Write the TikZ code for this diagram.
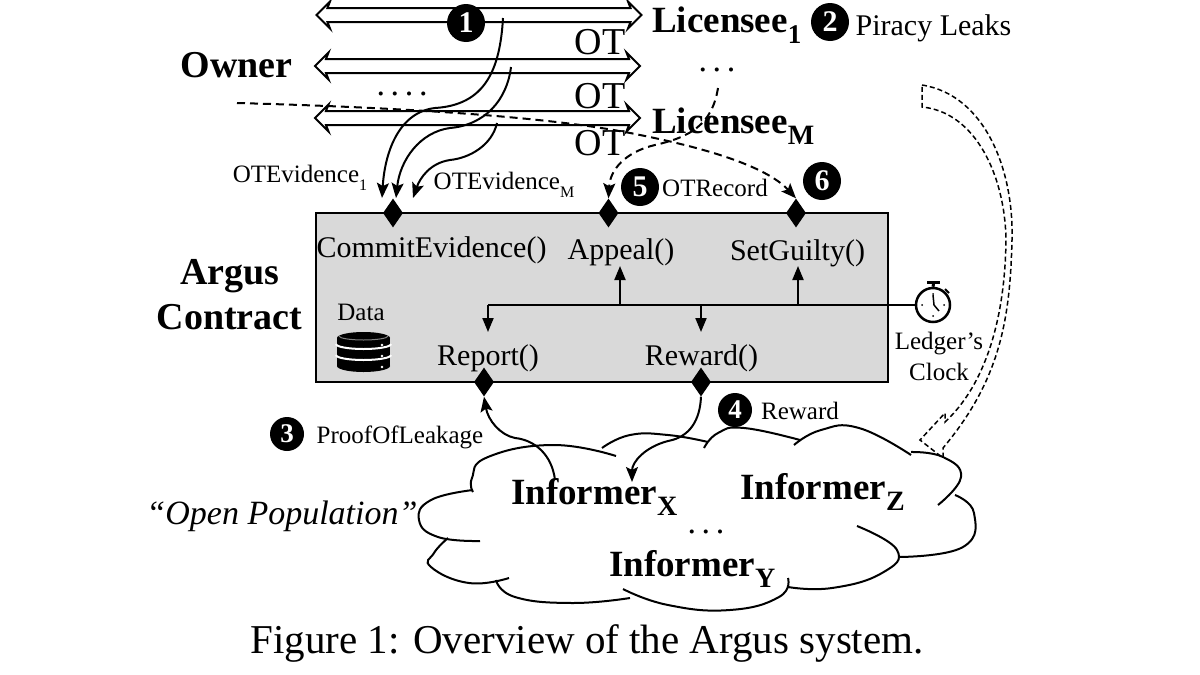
\documentclass[tikz,border=0pt]{standalone}
\usepackage{fontspec}
\setmainfont{Liberation Serif}
\usetikzlibrary{arrows.meta,shapes.geometric,shapes.arrows}
\newcommand{\lowtext}[2]{\raisebox{-.3em}{\fontsize{#1}{#1}\selectfont #2}}
\newcommand{\fs}[1]{\fontsize{#1}{#1}\selectfont}
\tikzset{
  wire/.style={line width=2pt, -{Stealth[length=15pt,width=12pt,inset=3pt]}},
  dashwire/.style={wire, dash pattern=on 8pt off 5pt},
  channel/.style={double arrow, draw, line width=2pt, inner xsep=0pt, inner ysep=6pt, minimum height=325pt, double arrow head extend=6.5pt, double arrow head indent=2.5pt},
  badge/.style={circle, fill=black, text=white, inner sep=0pt, minimum size=38pt, font=\fs{30}\bfseries},
  smallbadge/.style={badge, minimum size=34pt, font=\fs{27}\bfseries},
  port/.style={diamond, fill=black, inner sep=0pt, minimum width=20pt, minimum height=29pt},
  party/.style={inner sep=0pt, font=\fs{37}\bfseries},
  func/.style={inner sep=1pt, font=\fs{30}},
  note/.style={inner sep=0pt, font=\fs{25}},
  dotrow/.style={inner sep=0pt, text height=4pt, text depth=0pt, font=\fs{34}},
  lobe/.style={line width=2pt, smooth, tension=.8}
}

\begin{document}
\begin{tikzpicture}[x=1pt,y=-1pt]
  \useasboundingbox (0,0) rectangle (1200,675);

  \node[draw, line width=2pt, fill={rgb,255:red,217;green,217;blue,217}, minimum width=572pt, minimum height=169pt, inner sep=0pt] (contract) at (602,297.5) {};

  % parties
  \node[party, font=\fs{38}\bfseries] (owner) at (236.5,65) {Owner};
  \node[party, anchor=west] (lic1) at (652,25) {Licensee\lowtext{27}{1}};
  \node[party, anchor=west] (licM) at (652,126) {Licensee\lowtext{28}{M}};
  \node[party, font=\fs{38}\bfseries] (argus) at (230,276) {Argus};
  \node[party, font=\fs{38}\bfseries] (contr) at (229.5,317) {Contract};
  \node[dotrow] (dotsA) at (402,93) {.\,.\,.\,.};
  \node[dotrow] (dotsB) at (717,69) {.\,.\,.};

  % channels
  \node[channel] (chan1) at (479,15) {};
  \node[channel] (chan2) at (477.5,66) {};
  \node[channel] (chan3) at (477.5,118) {};
  \node[inner sep=0pt, font=\fs{38}] (ot1) at (600,42) {OT};
  \node[inner sep=0pt, font=\fs{38}] (ot2) at (600,96) {OT};
  \node[inner sep=0pt, font=\fs{38}] (ot3) at (600,143) {OT};

  % ports
  \node[port] (pCommit) at (393,213) {};
  \node[port] (pAppeal) at (608.5,213) {};
  \node[port] (pGuilty) at (796,213) {};
  \node[port] (pReport) at (484,382) {};
  \node[port] (pReward) at (701,382) {};

  % functions
  \node[func] (fCommit) at (431.5,250) {CommitEvidence()};
  \node[func] (fAppeal) at (621,252) {Appeal()};
  \node[func] (fGuilty) at (797.5,253) {SetGuilty()};
  \node[func] (fReport) at (488,358) {Report()};
  \node[func] (fReward) at (701.5,358) {Reward()};

  % labels
  \node[note] (evi1) at (300,178) {OTEvidence\lowtext{16}{1}};
  \node[note] (eviM) at (504,185) {OTEvidence\lowtext{16}{M}};
  \node[note] (otrec) at (715,188) {OTRecord};
  \node[note] (proof) at (400,437) {ProofOfLeakage};
  \node[note] (rew) at (800,411) {Reward};
  \node[inner sep=0pt, font=\fs{30}] (piracy) at (933.5,28) {Piracy Leaks};
  \node[note] (data) at (361,312) {Data};
  \node[note, align=center] (ledger) at (939,356) {Ledger's\\[6pt]Clock};
  \node[inner sep=0pt, font=\fs{34}\itshape] (openpop) at (282,516) {``Open Population''};
  \node[inner sep=0pt, font=\fs{41}] (caption) at (587,643) {Figure 1: Overview of the Argus system.};

  % badges
  \node[badge] (one) at (466,23) {1};
  \node[badge] (two) at (830,22) {2};
  \node[smallbadge] (three) at (287,434) {3};
  \node[smallbadge] (four) at (735,410) {4};
  \node[badge] (five) at (640,187) {5};
  \node[badge] (six) at (822,181) {6};

  % evidence
  \coordinate (s1) at (503,18);
  \coordinate (s2) at (511,67);
  \coordinate (s3) at (497,123);
  \coordinate (e1) at (382,198);
  \coordinate (e2) at (396,198);
  \coordinate (e3) at (413,198);
  \draw[wire] (s1) .. controls (500,70) and (485,105) .. (435,108) .. controls (400,112) and (385,150) .. (e1);
  \draw[wire] (s2) .. controls (507,100) and (485,125) .. (450,128) .. controls (420,132) and (400,160) .. (e2);
  \draw[wire] (s3) .. controls (492,145) and (470,158) .. (450,160) .. controls (430,163) and (420,178) .. (e3);

  % leaks
  \coordinate (s4) at (237,103);
  \coordinate (s5) at (718,88);
  \draw[dashwire] (s4) .. controls (420,108) and (560,118) .. (640,135) .. controls (700,147) and (765,165) .. (pGuilty.north);
  \draw[dashwire] (s5) .. controls (712,125) and (690,137) .. (655,145) .. controls (625,152) and (610,170) .. (pAppeal.north);

  % clock
  \node[draw, circle, line width=2.5pt, fill=white, minimum size=34pt, inner sep=0pt] (clock) at (933,305) {};
  \fill (927,281) rectangle (940,284);
  \draw[line width=3pt] (933.5,284) -- (clock.north);
  \draw[line width=2pt] (945,289) -- (949,293);
  \draw[line width=1.5pt] (933,295) -- (934,305) -- (939,311);
  \foreach \a in {0,90,180,270}
    \fill (clock.center) ++(\a:11pt) circle (1pt);
  \coordinate (turn) at (488,305);
  \coordinate (busA) at (620,305);
  \coordinate (busB) at (701,305);
  \coordinate (busC) at (798,305);
  \coordinate (endR) at (488,332);
  \coordinate (endW) at (701,332);
  \coordinate (endA) at (620,266);
  \coordinate (endC) at (798,266);
  \draw[line width=2pt] (clock.west) -- (turn);
  \path[wire, -{Stealth[length=14pt,width=11pt,inset=0pt]}]
  (turn) edge (endR)
  (busB) edge (endW)
  (busA) edge (endA)
  (busC) edge (endC)
  ;

  % database
  \fill (337,338) rectangle (390,366);
  \fill (363.5,338) ellipse (26.5pt and 6pt);
  \fill (363.5,366) ellipse (26.5pt and 6pt);
  \draw[white, line width=1pt, opacity=.5] (339,336) arc (180:360:24.5pt and 4pt);
  \foreach \y in {344,355}
    \draw[white, line width=2pt] (336,\y) arc (180:360:27.5pt and 5pt);
  \foreach \y in {345,356,367}
    \fill[white] (382,\y) circle (1.4pt);

  % cloud
  \draw[lobe] plot coordinates {(473,492) (472,478) (488,457) (553,445) (616,456)};
  \draw[lobe] plot coordinates {(602,448) (630,435) (668,435) (708,442)};
  \draw[lobe] plot coordinates {(704,448) (718,433) (744,428) (800,440)};
  \draw[lobe] plot coordinates {(794,445) (821,430) (859,428) (911,455)};
  \draw[lobe] plot coordinates {(911,452) (943,457) (961,477) (938,505)};
  \draw[lobe] plot coordinates {(955,495) (974,513) (963,547) (899,557)};
  \draw[lobe] plot coordinates {(857,526) (897,550) (882,573) (832,588) (788,587)};
  \draw[lobe] plot coordinates {(788,578) (779,597) (730,610) (668,605) (623,589)};
  \draw[lobe] plot coordinates {(630,598) (572,603) (515,597) (496,580)};
  \draw[lobe] plot coordinates {(509,578) (469,583) (431,567) (434,553) (448,538)};
  \draw[lobe] plot coordinates {(480,541) (438,537) (419,520) (431,500) (473,490)};

  % informers
  \node[party, anchor=west] (infX) at (511,497) {Informer\lowtext{28}{X}};
  \node[party, anchor=west] (infZ) at (740,492) {Informer\lowtext{28}{Z}};
  \node[party, anchor=west] (infY) at (609,569) {Informer\lowtext{28}{Y}};
  \node[dotrow] (dotsC) at (706,531) {.\,.\,.};

  % proof and reward
  \coordinate (s6) at (555,480);
  \coordinate (e6) at (632,482);
  \draw[wire] (s6) .. controls (552,455) and (535,440) .. (515,438) .. controls (500,435) and (488,420) .. (pReport.south);
  \draw[wire] (pReward.south) .. controls (700,420) and (690,437) .. (668,441) .. controls (645,447) and (632,462) .. (e6);

  % transfer to the crowd
  \coordinate (up1) at (922,85);
  \coordinate (up2) at (922,107);
  \coordinate (tipC) at (943,458);
  \draw[line width=1.5pt, dash pattern=on 5pt off 3pt] (up1) .. controls (985,95) and (1014,170) .. (1012,240) .. controls (1010,320) and (1000,380) .. (943,448) -- (tipC) -- (920,440) -- (945,413) -- (945,422) .. controls (985,385) and (1005,320) .. (1006,240) .. controls (1005,175) and (975,112) .. (up2) -- cycle;
\end{tikzpicture}
\end{document}
